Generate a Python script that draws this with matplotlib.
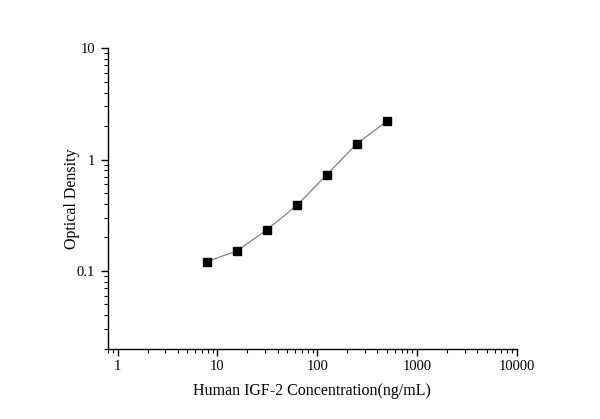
import matplotlib
matplotlib.use('Agg')
import matplotlib.pyplot as plt
from matplotlib.ticker import LogLocator, FixedLocator, NullFormatter

# standard curve readings
conc = [7.8, 15.6, 31.25, 62.5, 125, 250, 500]
od = [0.121, 0.151, 0.234, 0.387, 0.733, 1.39, 2.21]
xticks = [1, 10, 100, 1000, 10000]
xtick_labels = ['1', '10', '100', '1000', '10000']
yticks = [0.1, 1, 10]
ytick_labels = ['0.1', '1', '10']

plt.rcParams['font.family'] = ['Liberation Serif', 'DejaVu Serif']

fig = plt.figure(figsize=(6, 4.19), dpi=100)
ax = fig.add_axes([0.1795, 0.167, 0.6817, 0.718])

ax.plot(conc, od, color='#808080', linewidth=0.9, zorder=2)
ax.plot(conc, od, linestyle='none', marker='s', markersize=5.5,
        color='black', zorder=3)

ax.set_xscale('log')
ax.set_yscale('log')
ax.set_xlim(0.794, 10000)
ax.set_ylim(0.0199, 10)

ax.xaxis.set_major_locator(FixedLocator(xticks))
ax.set_xticklabels(xtick_labels)
ax.yaxis.set_major_locator(FixedLocator(yticks))
ax.set_yticklabels(ytick_labels)
ax.xaxis.set_minor_locator(LogLocator(base=10, subs=range(2, 10), numticks=20))
ax.yaxis.set_minor_locator(LogLocator(base=10, subs=range(2, 10), numticks=20))
ax.xaxis.set_minor_formatter(NullFormatter())
ax.yaxis.set_minor_formatter(NullFormatter())

for side in ['top', 'right']:
    ax.spines[side].set_visible(False)
for side in ['left', 'bottom']:
    ax.spines[side].set_linewidth(1.0)

ax.tick_params(which='major', direction='out', length=5, width=1,
               labelsize=10.5)
ax.tick_params(axis='x', which='major', pad=3)
ax.tick_params(axis='y', which='major', pad=4)
ax.tick_params(which='minor', direction='out', length=3, width=0.8)

ax.set_xlabel('Human IGF-2 Concentration(ng/mL)', fontsize=11.5, labelpad=7)
ax.set_ylabel('Optical Density', fontsize=11.5)
ax.yaxis.set_label_coords(-0.068, 0.5)

fig.savefig('out.png', dpi=100)
